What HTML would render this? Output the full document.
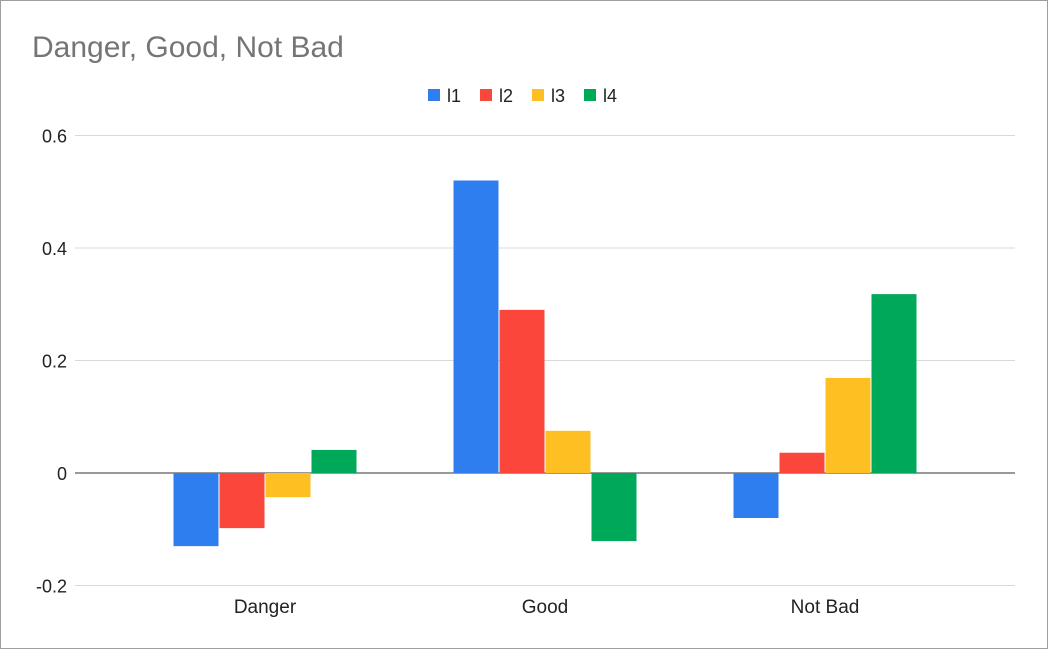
<!DOCTYPE html>
<html><head><meta charset="utf-8"><style>
body{margin:0;background:#fff;}
#wrap{width:1046px;height:647px;border:1px solid #9e9e9e;position:relative;overflow:hidden;background:#fff;}
svg{position:absolute;left:0;top:0;font-family:"Liberation Sans",Arial,sans-serif;}
</style></head><body>
<div id="wrap">
<svg id="chart" width="1046" height="647"></svg>
</div>
<script>
const categories = ["Danger","Good","Not Bad"];
const seriesNames = ["l1","l2","l3","l4"];
const l1 = [-0.130, 0.520, -0.080];
const l2 = [-0.098, 0.290, 0.036];
const l3 = [-0.043, 0.075, 0.169];
const l4 = [0.041, -0.121, 0.318];
const yTicks = [-0.2, 0, 0.2, 0.4, 0.6];
const yTickLabels = ["-0.2","0","0.2","0.4","0.6"];

const series = [l1,l2,l3,l4];
const colors = ["#2f7ef0","#fb463c","#fdbf22","#00a85a"];
const NS = "http://www.w3.org/2000/svg";
const svg = document.getElementById('chart');
function el(tag, attrs, parent){const e=document.createElementNS(NS,tag);for(const k in attrs)e.setAttribute(k,attrs[k]);(parent||svg).appendChild(e);return e;}
const y0 = 472, pxPerUnit = 562.5;
function yScale(v){return y0 - v*pxPerUnit;}
const firstCenter = 264, catStep = 280, barW = 45, barGap = 1;
function xCenter(i){return firstCenter + i*catStep;}

const title = el('text',{x:31,y:56,'font-size':30,fill:'#757575'});
title.textContent = "Danger, Good, Not Bad";



yTicks.forEach((t,i)=>{
  const y = yScale(t);
  const line = el('line',{x1:74,x2:1014,y1:y,y2:y,stroke:t===0?'#333':'#d9d9d9','stroke-width':1});
  
  
  const tx = el('text',{x:66,y:y+7,'font-size':18,fill:'#222','text-anchor':'end'});
  tx.textContent = yTickLabels[i];
  
  
});

categories.forEach((c,ci)=>{
  const cx = xCenter(ci);
  const groupW = series.length*barW + (series.length-1)*barGap;
  series.forEach((s,si)=>{
    const v = s[ci];
    const x = cx - groupW/2 + si*(barW+barGap);
    const ya = yScale(Math.max(v,0)), yb = yScale(Math.min(v,0));
    const r = el('rect',{x:x,y:ya,width:barW,height:Math.max(yb-ya,0.5),fill:colors[si]});
    
    
  });
  const lab = el('text',{x:cx,y:612,'font-size':19,fill:'#222','text-anchor':'middle'});
  lab.textContent = c;
  
  
});

const legendX = [427,479,531,583];
seriesNames.forEach((n,i)=>{
  const g = el('g',{});
  
  
  el('rect',{x:legendX[i],y:88,width:12,height:12,fill:colors[i]},g);
  const t = el('text',{x:legendX[i]+19,y:101,'font-size':18,fill:'#222'},g);
  t.textContent = n;
});
</script>
</body></html>
